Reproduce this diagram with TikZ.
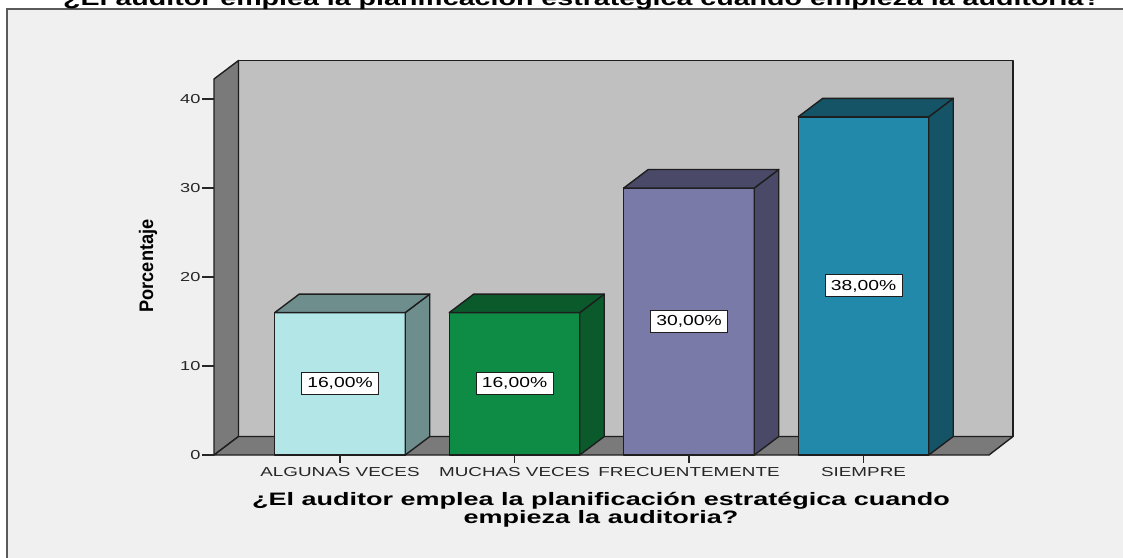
\documentclass[tikz,border=0pt]{standalone}
\usepackage{fontspec}
\setmainfont{Liberation Sans}
\usetikzlibrary{calc}
\definecolor{framebg}{HTML}{F0F0F0}
\definecolor{framecol}{HTML}{5A5A5A}
\definecolor{wallback}{HTML}{C0C0C0}
\definecolor{walldark}{HTML}{7A7A7A}
\definecolor{edgecol}{HTML}{1E1E1E}
\definecolor{txtcol}{HTML}{262626}
\definecolor{barAf}{HTML}{B3E6E6}
\definecolor{barAs}{HTML}{6E8E8E}
\definecolor{barBf}{HTML}{0E8C46}
\definecolor{barBs}{HTML}{0A5A2C}
\definecolor{barCf}{HTML}{7A7AA8}
\definecolor{barCs}{HTML}{4A4A68}
\definecolor{barDf}{HTML}{2389AA}
\definecolor{barDs}{HTML}{155466}
\newcommand\sx[2]{\scalebox{#1}[1]{#2}}
\begin{document}
\begin{tikzpicture}[x=1pt,y=-1pt,
  edge/.style={draw=edgecol,line width=1.4pt,line join=round},
  barface/.style={edge,rectangle,minimum width=130.5pt,inner sep=0pt,outer sep=0pt},
  vallabel/.style={draw=edgecol,fill=white,line width=1pt,minimum width=77pt,minimum height=22pt,inner sep=0pt,
    font=\fontsize{14.5}{16}\selectfont,text=black},
  ticklab/.style={font=\fontsize{13}{15}\selectfont,text=txtcol,inner sep=1pt},
  catlab/.style={font=\fontsize{13}{15}\selectfont,text=txtcol,inner sep=0pt},
  tickline/.style={draw=txtcol,line width=1.2pt}]
\useasboundingbox (0,0) rectangle (1123,557);
\fill[white] (0,0) rectangle (1123,557);
\clip (0,0) rectangle (1123,557);
% outer frame
\draw[fill=framebg,draw=framecol,line width=2pt] (7,9) rectangle (1150,590);
% main title (cut off at top)
\node[anchor=base,inner sep=0pt] (title) at (582,5) {\fontsize{20}{24}\selectfont\bfseries\sx{1.43}{¿El auditor emplea la planificación estratégica cuando empieza la auditoria?}};
% walls and floor
\coordinate (lwf) at (214,455);
\coordinate (lwt) at (214,79);
\coordinate (bwt) at (238.5,60.5);
\coordinate (bwb) at (238.5,436.5);
\coordinate (bwtr) at (1013,60.5);
\coordinate (bwbr) at (1013,436.5);
\coordinate (flr) at (989,455);
\draw[edge,fill=wallback] (bwt) rectangle (bwbr);
\draw[edge,fill=walldark] (lwf) -- (lwt) -- (bwt) -- (bwb) -- cycle;
\draw[edge,fill=walldark] (lwf) -- (bwb) -- (bwbr) -- (flr) -- cycle;
% y ticks
\foreach \v in {0,10,20,30,40}{
  \coordinate (t\v) at (214,{455-8.9*\v});
  \draw[tickline] (t\v) -- ++(-12,0) node[anchor=east,ticklab] (tl\v) {\sx{1.4}{\v}};
}
% bars
\foreach \n/\cx/\v/\fc/\sc/\lab/\cat in {
  b1/340/16/barAf/barAs/{16,00\%}/{ALGUNAS VECES},
  b2/514.5/16/barBf/barBs/{16,00\%}/{MUCHAS VECES},
  b3/689/30/barCf/barCs/{30,00\%}/{FRECUENTEMENTE},
  b4/863.5/38/barDf/barDs/{38,00\%}/{SIEMPRE}}{
  \node[barface,fill=\fc,minimum height=8.9pt*\v,anchor=south] (\n) at (\cx,455) {};
  \draw[edge,fill=\sc] (\n.south east) -- (\n.north east) -- ++(24.5,-18.5) -- ($(\n.south east)+(24.5,-18.5)$) -- cycle;
  \draw[edge,fill=\sc] (\n.north west) -- ++(24.5,-18.5) -- ($(\n.north east)+(24.5,-18.5)$) -- (\n.north east) -- cycle;
  \node[vallabel] (l\n) at (\n.center) {\sx{1.33}{\lab}};
  \draw[tickline] (\n.south) -- ++(0,8);
  \node[catlab,anchor=base] (c\n) at ($(\n.south)+(0,21)$) {\sx{1.45}{\cat}};
}
% axis titles
\node[rotate=90,inner sep=0pt] (ytitle) at (148,266) {\fontsize{14}{14}\selectfont\bfseries\scalebox{1.3}[1.4]{Porcentaje}};
\node[align=center,anchor=base,inner sep=0pt,font=\fontsize{18}{16.3}\selectfont\bfseries] (xtitle) at (601,523)
  {\sx{1.5}{¿El auditor emplea la planificación estratégica cuando}\\\sx{1.5}{empieza la auditoria?}};
\end{tikzpicture}
\end{document}
